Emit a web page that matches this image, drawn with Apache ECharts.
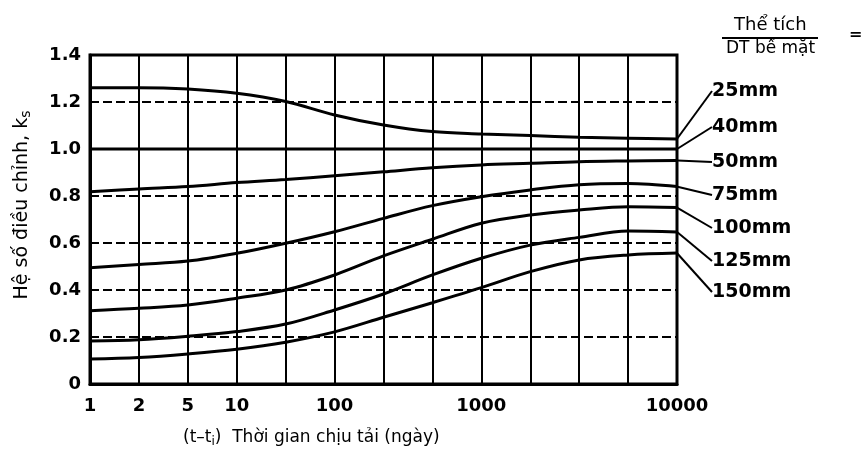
<!DOCTYPE html>
<html>
<head>
<meta charset="utf-8">
<script src="https://cdn.jsdelivr.net/npm/echarts@6/dist/echarts.min.js"></script>
<style>html,body{margin:0;padding:0;background:#fff;}#c{width:866px;height:455px;}</style>
</head>
<body>
<div id="c"></div>
<script>
// x positions are evenly spaced grid columns; only some carry labels
var xTickLabels = ['1','2','5','10','','100','','','1000','','','','10000'];
var seriesNames = ['25mm','40mm','50mm','75mm','100mm','125mm','150mm'];
var s25  = [1.261,1.261,1.255,1.237,1.202,1.145,1.102,1.074,1.064,1.057,1.050,1.046,1.043];
var s40  = [1.0,1.0,1.0,1.0,1.0,1.0,1.0,1.0,1.0,1.0,1.0,1.0,1.0];
var s50  = [0.818,0.830,0.840,0.857,0.870,0.886,0.903,0.920,0.932,0.939,0.946,0.949,0.951];
var s75  = [0.495,0.509,0.523,0.556,0.599,0.648,0.705,0.759,0.797,0.826,0.848,0.853,0.840];
var s100 = [0.312,0.322,0.336,0.365,0.400,0.464,0.545,0.616,0.684,0.719,0.740,0.754,0.751];
var s125 = [0.183,0.188,0.203,0.223,0.255,0.315,0.383,0.464,0.535,0.591,0.624,0.651,0.647];
var s150 = [0.106,0.113,0.128,0.148,0.178,0.222,0.284,0.346,0.410,0.478,0.528,0.549,0.557];
var allSeries = [s25,s40,s50,s75,s100,s125,s150];

// label placement (layout only)
var labelX = 703;
var labelY = [91,127,162,195,228,261,292];

var chart = echarts.init(document.getElementById('c'), null, {renderer:'canvas'});
var FONT = 'DejaVu Sans';

var series = allSeries.map(function(vals, si){
  var last = vals.length - 1;
  return {
    name: seriesNames[si],
    type: 'line',
    smooth: 0.35,
    showSymbol: true,
    symbol: 'circle',
    symbolSize: 1,
    itemStyle: {color:'#000'},
    lineStyle: {color:'#000', width: 3},
    emphasis: {disabled: true},
    silent: true,
    label: {show:false},
    labelLine: {show:true, length2: 0, smooth: false, lineStyle:{color:'#000', width:2}},
    labelLayout: function(p){
      if (p.dataIndex !== last) return {};
      return {x: labelX, y: labelY[si], align:'left', verticalAlign:'middle'};
    },
    data: vals.map(function(v,i){
      if (i === last) {
        return {value:[i,v], label:{show:true, position:'right', formatter: seriesNames[si],
          color:'#000', fontFamily: FONT, fontWeight:'bold', fontSize:19, padding:[0,0,0,9]}};
      }
      return [i,v];
    })
  };
});

chart.setOption({
  animation: false,
  backgroundColor: '#fff',
  grid: {left:90, right:189, top:55, bottom:71, show:true, borderColor:'#000', borderWidth:3, backgroundColor:'transparent'},
  xAxis: {
    type:'value', min:0, max:12, interval:1,
    axisLine:{show:true, lineStyle:{color:'#000', width:3}},
    axisTick:{show:false},
    splitLine:{show:true, lineStyle:{color:'#000', width:2, type:'solid'}},
    axisLabel:{margin:13, color:'#000', fontFamily:FONT, fontWeight:'bold', fontSize:18,
      formatter:function(v){ return xTickLabels[Math.round(v)] || ''; }}
  },
  yAxis: {
    type:'value', min:0, max:1.4, interval:0.2,
    axisLine:{show:true, lineStyle:{color:'#000', width:3}},
    axisTick:{show:false},
    splitLine:{show:true, lineStyle:{color:'#000', width:2, type:[9,4]}},
    axisLabel:{margin:9, color:'#000', fontFamily:FONT, fontWeight:'bold', fontSize:18,
      formatter:function(v){ return v === 0 ? '0' : v.toFixed(1); }}
  },
  graphic: [
    {type:'text', x:22, y:205, rotation:Math.PI/2, style:{
      text:'{a|Hệ số điều chỉnh, k}{b|s}', align:'center', verticalAlign:'middle',
      rich:{a:{fontFamily:FONT, fontSize:19, fill:'#000'}, b:{fontFamily:FONT, fontSize:14, fill:'#000', padding:[8,0,0,0]}}
    }},
    {type:'text', left:183, top:429, style:{
      text:'{a|(t–t}{b|i}{a|)  Thời gian chịu tải (ngày)}',
      rich:{a:{fontFamily:FONT, fontSize:17, fill:'#000'}, b:{fontFamily:FONT, fontSize:12, fill:'#000', padding:[8,0,0,0]}}
    }},
    {type:'text', left:734, top:16, style:{text:'Thể tích', font:'18px "DejaVu Sans"', fill:'#000'}},
    {type:'line', shape:{x1:722, y1:38, x2:818, y2:38}, style:{stroke:'#000', lineWidth:2}},
    {type:'text', left:726, top:40, style:{text:'DT bề mặt', font:'17px "DejaVu Sans"', fill:'#000'}},
    {type:'text', left:849, top:27, style:{text:'=', font:'bold 16px "DejaVu Sans"', fill:'#000'}}
  ],
  series: series
});
</script>
</body>
</html>
